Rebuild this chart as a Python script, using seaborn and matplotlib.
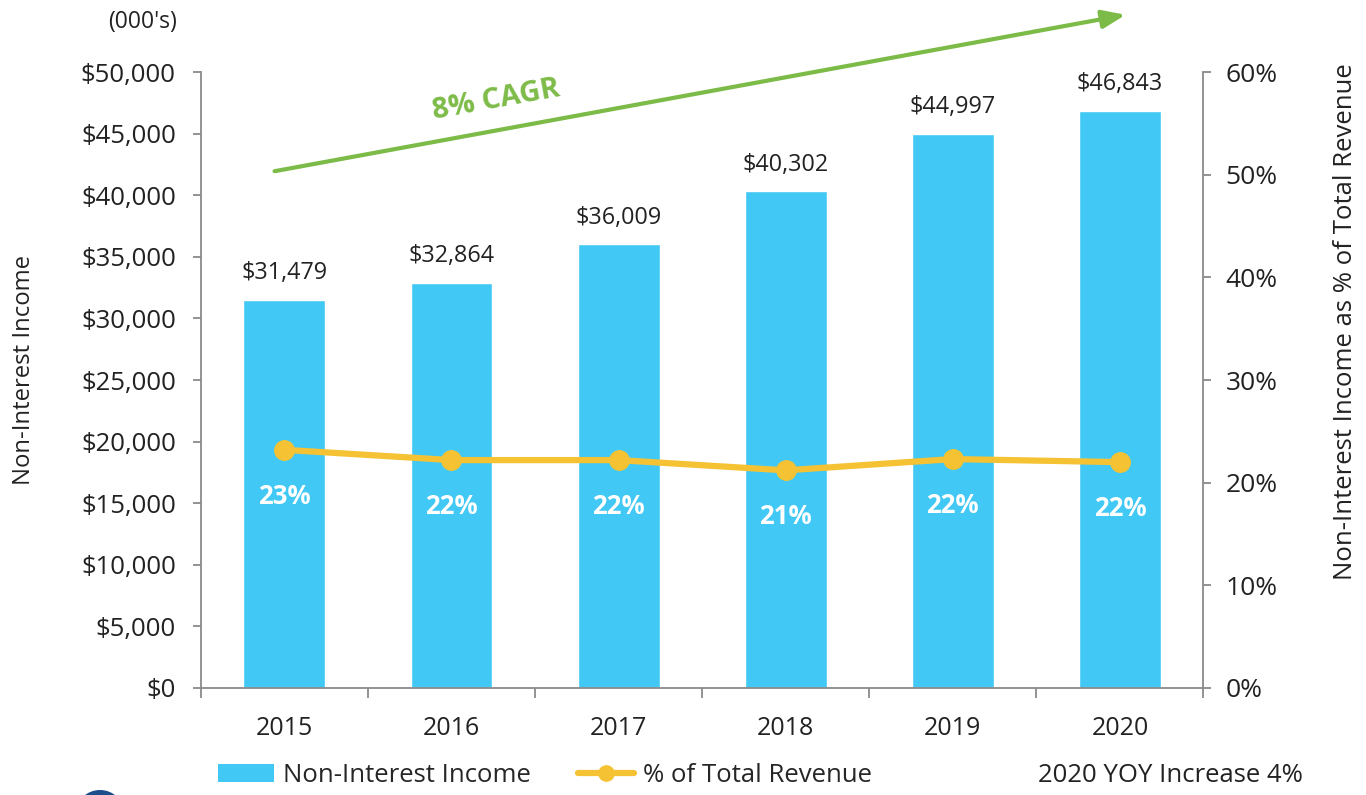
import matplotlib
matplotlib.use("Agg")
import matplotlib.pyplot as plt
from matplotlib.patches import Patch, Circle, FancyArrowPatch
from matplotlib.lines import Line2D
from matplotlib.ticker import FuncFormatter, FixedLocator
import pandas as pd
import seaborn as sns

years = ["2015", "2016", "2017", "2018", "2019", "2020"]
income = [31479, 32864, 36009, 40302, 44997, 46843]
pct_revenue = [23.2, 22.2, 22.2, 21.2, 22.3, 22.0]
pct_labels = ["23%", "22%", "22%", "21%", "22%", "22%"]

BAR = "#41c8f5"
GOLD = "#f5c233"
GREEN = "#7dbb48"
AXIS = "#8a8a8a"
TXT = "#222222"

df = pd.DataFrame({"year": years, "income": income, "pct": pct_revenue})

sns.set_theme(style="white")
plt.rcParams["font.family"] = ["Open Sans", "DejaVu Sans"]

fig = plt.figure(figsize=(13.66, 7.95), dpi=100)
ax = fig.add_axes([0.147, 0.1346, 0.734, 0.7748])

sns.barplot(data=df, x="year", y="income", color=BAR, width=0.49,
            saturation=1, ax=ax)
ax.set_xlim(-0.5, 5.5)
ax.set_ylim(0, 50000)
ax.set_yticks(range(0, 50001, 5000))
ax.yaxis.set_major_formatter(FuncFormatter(lambda v, p: f"${v:,.0f}"))

# bar value labels
for i, v in enumerate(income):
    ax.text(i, v + 1200, f"${v:,}", ha="center", va="bottom",
            fontsize=16.8, color=TXT)

# x ticks at category boundaries, labels at centres
ax.xaxis.set_major_locator(FixedLocator([i - 0.5 for i in range(7)]))
ax.xaxis.set_major_formatter(FuncFormatter(lambda v, p: ""))
ax.xaxis.set_minor_locator(FixedLocator(list(range(6))))
ax.set_xticklabels(years, minor=True)
ax.tick_params(axis="x", which="major", length=7, width=1.3, color=AXIS,
               direction="out", bottom=True)
ax.tick_params(axis="x", which="minor", length=0, labelsize=18,
               labelcolor=TXT, pad=20)
ax.tick_params(axis="y", length=6, width=1.3, color=AXIS, direction="out",
               left=True, labelsize=18.5, labelcolor=TXT, pad=12)
ax.set_xlabel("")
ax.set_ylabel("Non-Interest Income", fontsize=17.2, color=TXT)
ax.yaxis.set_label_coords(-0.164, 0.516)

for s in ["top", "right"]:
    ax.spines[s].set_visible(False)
for s in ["left", "bottom"]:
    ax.spines[s].set_color(AXIS)
    ax.spines[s].set_linewidth(1.3)

# secondary axis with % of revenue
ax2 = ax.twinx()
ax2.plot(range(len(years)), pct_revenue, color=GOLD, lw=4.5, marker="o",
         markersize=14, zorder=5)
ax2.set_ylim(0, 60)
ax2.set_yticks(range(0, 61, 10))
ax2.yaxis.set_major_formatter(FuncFormatter(lambda v, p: f"{v:.0f}%"))
ax2.tick_params(axis="y", length=6, width=1.3, color=AXIS, direction="out",
                right=True, labelsize=19, labelcolor=TXT, pad=10)
ax2.set_ylabel("Non-Interest Income as % of Total Revenue", fontsize=18.5,
               color=TXT)
ax2.yaxis.set_label_coords(1.129, 0.594)
for s in ["top", "left", "bottom"]:
    ax2.spines[s].set_visible(False)
ax2.spines["right"].set_color(AXIS)
ax2.spines["right"].set_linewidth(1.3)
ax2.set_xlim(-0.5, 5.5)

for i, (v, lab) in enumerate(zip(pct_revenue, pct_labels)):
    ax2.text(i, v - 4.5, lab, ha="center", va="center", fontsize=18.5,
             fontweight="bold", color="white")

# CAGR arrow
fig.patches.append(FancyArrowPatch(
    (0.199, 0.784), (0.826, 0.982), transform=fig.transFigure,
    arrowstyle="-|>,head_length=14,head_width=5.5", mutation_scale=1,
    color=GREEN, lw=3))
fig.text(0.363, 0.874, "8% CAGR", color=GREEN, fontsize=21,
         fontweight="bold", rotation=10.3, ha="center", va="center")

fig.text(0.104, 0.972, "(000's)", fontsize=16.5, color=TXT, ha="center",
         va="center")

# legend
handles = [Patch(facecolor=BAR, edgecolor="none", label="Non-Interest Income"),
           Line2D([0], [0], color=GOLD, lw=4.5, marker="o", markersize=11,
                  label="% of Total Revenue")]
fig.legend(handles=handles, loc="center left", bbox_to_anchor=(0.152, 0.025),
           ncol=2, frameon=False, fontsize=18.5, handlelength=2.2,
           columnspacing=1.8, handletextpad=0.35, borderaxespad=0)
fig.text(0.857, 0.025, "2020 YOY Increase 4%", fontsize=18.5, color=TXT,
         ha="center", va="center")

# partial logo circle bottom-left
fig.patches.append(Circle((100, -20), 25, transform=None,
                          facecolor="#1b4f8c", edgecolor="none"))

fig.savefig("out.png", dpi=100)
